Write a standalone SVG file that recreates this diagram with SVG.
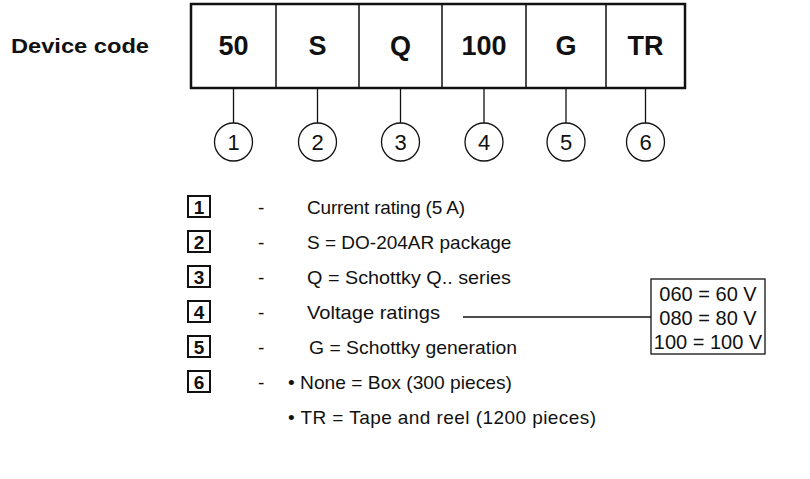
<svg xmlns="http://www.w3.org/2000/svg" width="810" height="479" viewBox="0 0 810 479">
<style>
text{font-family:"Liberation Sans",Arial,sans-serif;fill:#111}
.code{font-size:27px;font-weight:bold;text-anchor:middle}
.num{font-size:22px;text-anchor:middle}
.item{font-size:19px}
.key{font-size:19px;font-weight:bold;text-anchor:middle}
.cell{fill:none;stroke:#111;stroke-width:1.5}
.frame{fill:none;stroke:#111;stroke-width:2.5}
.sq{fill:none;stroke:#111;stroke-width:2}
.ln{stroke:#111;stroke-width:1.3;fill:none}
.circ{fill:#fff;stroke:#111;stroke-width:1.3}
.volt{font-size:20px;text-anchor:middle}
</style>
<text x="11" y="53" font-size="21" font-weight="bold" textLength="138" lengthAdjust="spacingAndGlyphs">Device code</text>
<g id="codebox">
<rect class="frame" x="191" y="4" width="494" height="84"/>
<line class="cell" x1="276" y1="4" x2="276" y2="88"/>
<line class="cell" x1="359" y1="4" x2="359" y2="88"/>
<line class="cell" x1="442" y1="4" x2="442" y2="88"/>
<line class="cell" x1="526" y1="4" x2="526" y2="88"/>
<line class="cell" x1="606" y1="4" x2="606" y2="88"/>
<text class="code" x="233.5" y="55">50</text>
<text class="code" x="317.5" y="55">S</text>
<text class="code" x="400.5" y="55">Q</text>
<text class="code" x="484" y="55">100</text>
<text class="code" x="566" y="55">G</text>
<text class="code" x="645.5" y="55">TR</text>
</g>
<g id="connectors">
<line class="ln" x1="233.5" y1="89" x2="233.5" y2="123"/>
<line class="ln" x1="317.5" y1="89" x2="317.5" y2="123"/>
<line class="ln" x1="400.5" y1="89" x2="400.5" y2="123"/>
<line class="ln" x1="484" y1="89" x2="484" y2="123"/>
<line class="ln" x1="566" y1="89" x2="566" y2="123"/>
<line class="ln" x1="645.5" y1="89" x2="645.5" y2="123"/>
<line class="ln" x1="463" y1="317" x2="651" y2="317"/>
</g>
<g id="c1"><circle class="circ" cx="233.5" cy="142" r="19"/><text class="num" x="233.5" y="150">1</text></g>
<g id="c2"><circle class="circ" cx="317.5" cy="142" r="19"/><text class="num" x="317.5" y="150">2</text></g>
<g id="c3"><circle class="circ" cx="400.5" cy="142" r="19"/><text class="num" x="400.5" y="150">3</text></g>
<g id="c4"><circle class="circ" cx="484" cy="142" r="19"/><text class="num" x="484" y="150">4</text></g>
<g id="c5"><circle class="circ" cx="566" cy="142" r="19"/><text class="num" x="566" y="150">5</text></g>
<g id="c6"><circle class="circ" cx="645.5" cy="142" r="19"/><text class="num" x="645.5" y="150">6</text></g>
<g id="row1"><rect class="sq" x="188" y="196" width="22" height="21"/><text class="key" x="199" y="213.5">1</text><text class="item" x="258" y="214">-</text><text class="item" x="307" y="214" textLength="158" lengthAdjust="spacing">Current rating (5 A)</text></g>
<g id="row2"><rect class="sq" x="188" y="231" width="22" height="21"/><text class="key" x="199" y="248.5">2</text><text class="item" x="258" y="249">-</text><text class="item" x="307" y="249">S = DO-204AR package</text></g>
<g id="row3"><rect class="sq" x="188" y="266" width="22" height="21"/><text class="key" x="199" y="283.5">3</text><text class="item" x="258" y="284">-</text><text class="item" x="307" y="284" textLength="204" lengthAdjust="spacingAndGlyphs">Q = Schottky Q.. series</text></g>
<g id="row4"><rect class="sq" x="188" y="301" width="22" height="21"/><text class="key" x="199" y="318.5">4</text><text class="item" x="258" y="319">-</text><text class="item" x="307" y="319" textLength="133" lengthAdjust="spacingAndGlyphs">Voltage ratings</text></g>
<g id="row5"><rect class="sq" x="188" y="336" width="22" height="21"/><text class="key" x="199" y="353.5">5</text><text class="item" x="258" y="354">-</text><text class="item" x="309" y="354" textLength="208" lengthAdjust="spacingAndGlyphs">G = Schottky generation</text></g>
<g id="row6"><rect class="sq" x="188" y="371" width="22" height="21"/><text class="key" x="199" y="388.5">6</text><text class="item" x="258" y="389">-</text><text class="item" x="288" y="389" textLength="224" lengthAdjust="spacingAndGlyphs">• None = Box (300 pieces)</text></g>
<g id="row7"><text class="item" x="288" y="424" textLength="308" lengthAdjust="spacing">• TR = Tape and reel (1200 pieces)</text></g>
<g id="voltbox">
<rect x="651" y="279" width="114" height="75" fill="#fff" stroke="#111" stroke-width="1.3"/>
<text class="volt" x="708" y="301">060 = 60 V</text>
<text class="volt" x="708" y="325">080 = 80 V</text>
<text class="volt" x="708" y="349">100 = 100 V</text>
</g>
</svg>
